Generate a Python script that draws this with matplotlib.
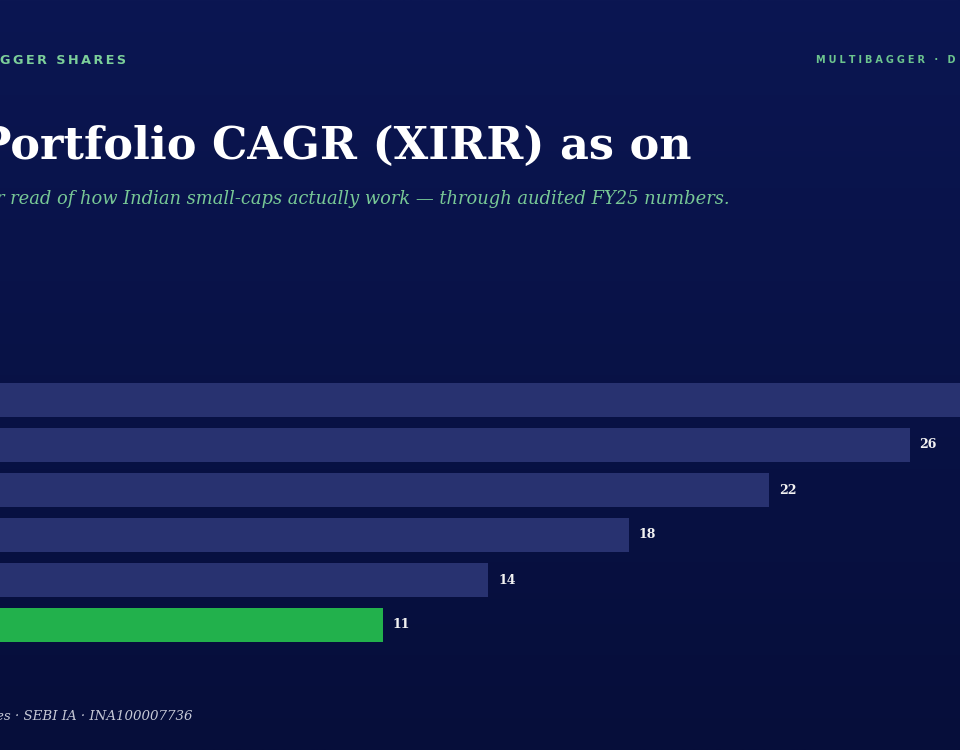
import numpy as np
import matplotlib.pyplot as plt

# CAGR values, top bar to bottom bar (top one runs past the frame)
values = [30, 26, 22, 18, 14, 11]
bar_colors = ['#283270', '#283270', '#283270', '#283270', '#283270', '#22b14c']
value_labels = ['30', '26', '22', '18', '14', '11']

kicker = 'GGER SHARES'
brand = 'MULTIBAGGER · D'
title = 'Portfolio CAGR (XIRR) as on'
subtitle = 'r read of how Indian small-caps actually work \u2014 through audited FY25 numbers.'
footer = 'es · SEBI IA · INA100007736'


def spaced(s, gap='\u2009'):
    return gap.join(s)


fig = plt.figure(figsize=(9.6, 7.5), dpi=100)

# background gradient
bg = fig.add_axes([0, 0, 1, 1])
top = np.array([11, 22, 82]) / 255
bot = np.array([6, 14, 58]) / 255
t = np.linspace(0, 1, 256)[:, None]
grad = top + (bot - top) * t
bg.imshow(grad[:, None, :].repeat(2, axis=1), aspect='auto', extent=[0, 1, 0, 1])
bg.set_axis_off()

xmax = 27.43
ax = fig.add_axes([0, 1 - 647.5 / 750, 1, 270 / 750])
ax.set_facecolor('none')
ypos = np.arange(len(values))
ax.barh(ypos, values, height=0.756, color=bar_colors)
for y, v, lab in zip(ypos, values, value_labels):
    if v + 1.2 > xmax:
        continue  # label would sit outside the frame
    ax.text(v + 0.28, y, lab, va='center', ha='left', color='#f2f2f2',
            fontsize=9, fontweight='bold', family='DejaVu Serif')
ax.set_xlim(0.1, xmax)
ax.set_ylim(len(values) - 0.5, -0.5)
ax.set_axis_off()

fig.text(0.0, 1 - 61 / 750, spaced(kicker), color='#7ccf9a', fontsize=9.2,
         fontweight='bold', va='center', ha='left', family='DejaVu Sans')
fig.text(816 / 960, 1 - 60 / 750, spaced(brand, '\u2009\u200a'), color='#6cc48e', fontsize=7,
         fontweight='bold', va='center', ha='left', family='DejaVu Sans')
fig.text(-22 / 960, 1 - 146 / 750, title, color='white', fontsize=32,
         fontweight='bold', va='center', ha='left', family='DejaVu Serif')
fig.text(-4 / 960, 1 - 199 / 750, subtitle, color='#78c896', fontsize=12.9,
         style='italic', va='center', ha='left', family='DejaVu Serif')
fig.text(-4 / 960, 1 - 717 / 750, footer, color='#c5c8d6', fontsize=9.6,
         style='italic', va='center', ha='left', family='DejaVu Serif')

fig.savefig('out.png', dpi=100)
